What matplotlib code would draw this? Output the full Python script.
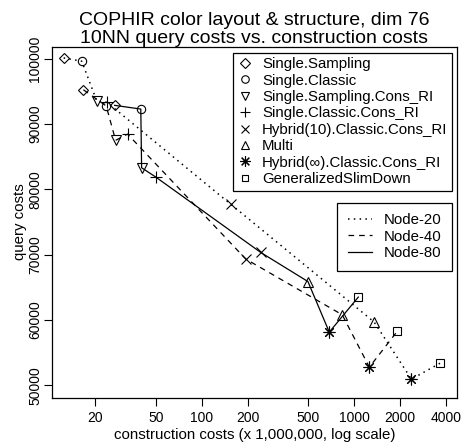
import matplotlib
matplotlib.use("Agg")
import matplotlib.pyplot as plt
from matplotlib.lines import Line2D
from matplotlib.ticker import FixedLocator, NullLocator

plt.rcParams['font.family'] = ['Liberation Sans', 'DejaVu Sans']

methods = ["Single.Sampling", "Single.Classic", "Single.Sampling.Cons_RI",
           "Single.Classic.Cons_RI", "Hybrid(10).Classic.Cons_RI", "Multi",
           "Hybrid(\u221e).Classic.Cons_RI", "GeneralizedSlimDown"]
markers = ["D", "o", "v", "+", "x", "^", (8, 2, 0), "s"]
msizes = [5.5, 6, 6.5, 8.5, 6.5, 6.5, 8.5, 5.5]

node_names = ["Node-20", "Node-40", "Node-80"]
node20_x = [12.4, 16.3, 20.5, 23.9, 155, 1355, 2382, 3680]
node20_y = [100100, 99600, 93460, 93300, 77730, 59710, 50965, 53415]
node40_x = [16.7, 23.6, 27.2, 32.6, 194.6, 837, 1261, 1927]
node40_y = [95240, 92750, 87500, 88450, 69340, 60810, 52800, 58310]
node80_x = [26.8, 39.8, 40.3, 49.8, 244, 498, 688, 1067]
node80_y = [92850, 92280, 83300, 81900, 70350, 65900, 58160, 63520]
node_styles = [(0, (1, 2.8)), (0, (4.5, 4)), "-"]
node_widths = [1.1, 0.9, 0.9]

x_ticks = [20, 50, 100, 200, 500, 1000, 2000, 4000]
y_ticks = [50000, 60000, 70000, 80000, 90000, 100000]

fig = plt.figure(figsize=(4.64, 4.47), dpi=100)
ax = fig.add_axes([51.7 / 464, 1 - 397.5 / 447, (457.3 - 51.7) / 464, (397.5 - 46.7) / 447])

series = [(node20_x, node20_y), (node40_x, node40_y), (node80_x, node80_y)]
for (xs, ys), ls, lw in zip(series, node_styles, node_widths):
    ax.plot(xs, ys, color="black", lw=lw, linestyle=ls)
    for x, y, m, s in zip(xs, ys, markers, msizes):
        ax.plot([x], [y], marker=m, ms=s, mfc="none", mec="black", mew=0.8, ls="none")

ax.set_xscale("log")
ax.set_xlim(10.35, 4766)
ax.set_ylim(48160, 101820)
ax.xaxis.set_major_locator(FixedLocator(x_ticks))
ax.xaxis.set_minor_locator(NullLocator())
ax.set_xticks(x_ticks)
ax.set_xticklabels([str(t) for t in x_ticks])
ax.set_yticks(y_ticks)
ax.set_yticklabels([str(t) for t in y_ticks], rotation=90, va="center", fontsize=8.6)
ax.tick_params(axis="both", direction="out", length=6, width=0.8, labelsize=10, pad=3.5)
ax.tick_params(axis="y", pad=1)
for sp in ax.spines.values():
    sp.set_linewidth(0.9)

ax.set_xlabel("construction costs (x 1,000,000, log scale)", fontsize=10.8, labelpad=2.5)
ax.set_ylabel("query costs", fontsize=10.8, labelpad=1)
ax.set_title("COPHIR color layout & structure, dim 76\n10NN query costs vs. construction costs",
             fontsize=14, linespacing=1.05, pad=0.8)

h1 = [Line2D([], [], marker=m, ms=s * 0.9, mfc="none", mec="black", mew=0.8, ls="none")
      for m, s in zip(markers, msizes)]
leg1 = ax.legend(h1, methods, loc="upper right", bbox_to_anchor=(452 / 464, 1 - 52.7 / 447),
                 bbox_transform=fig.transFigure, fontsize=10.8, frameon=True, fancybox=False,
                 edgecolor="black", framealpha=1, borderpad=0.3, labelspacing=0.16,
                 handletextpad=0.63, handlelength=1.0, borderaxespad=0)
leg1.get_frame().set_linewidth(0.9)
ax.add_artist(leg1)

h2 = [Line2D([], [], color="black", lw=lw, linestyle=ls)
      for ls, lw in zip(node_styles, node_widths)]
leg2 = ax.legend(h2, node_names, loc="upper right", bbox_to_anchor=(452 / 464, 1 - 202.7 / 447),
                 bbox_transform=fig.transFigure, fontsize=10.8, frameon=True, fancybox=False,
                 edgecolor="black", framealpha=1, borderpad=0.7, labelspacing=0.16,
                 handletextpad=0.8, handlelength=1.6, borderaxespad=0)
leg2.get_frame().set_linewidth(0.9)

fig.savefig("out.png", dpi=100)
